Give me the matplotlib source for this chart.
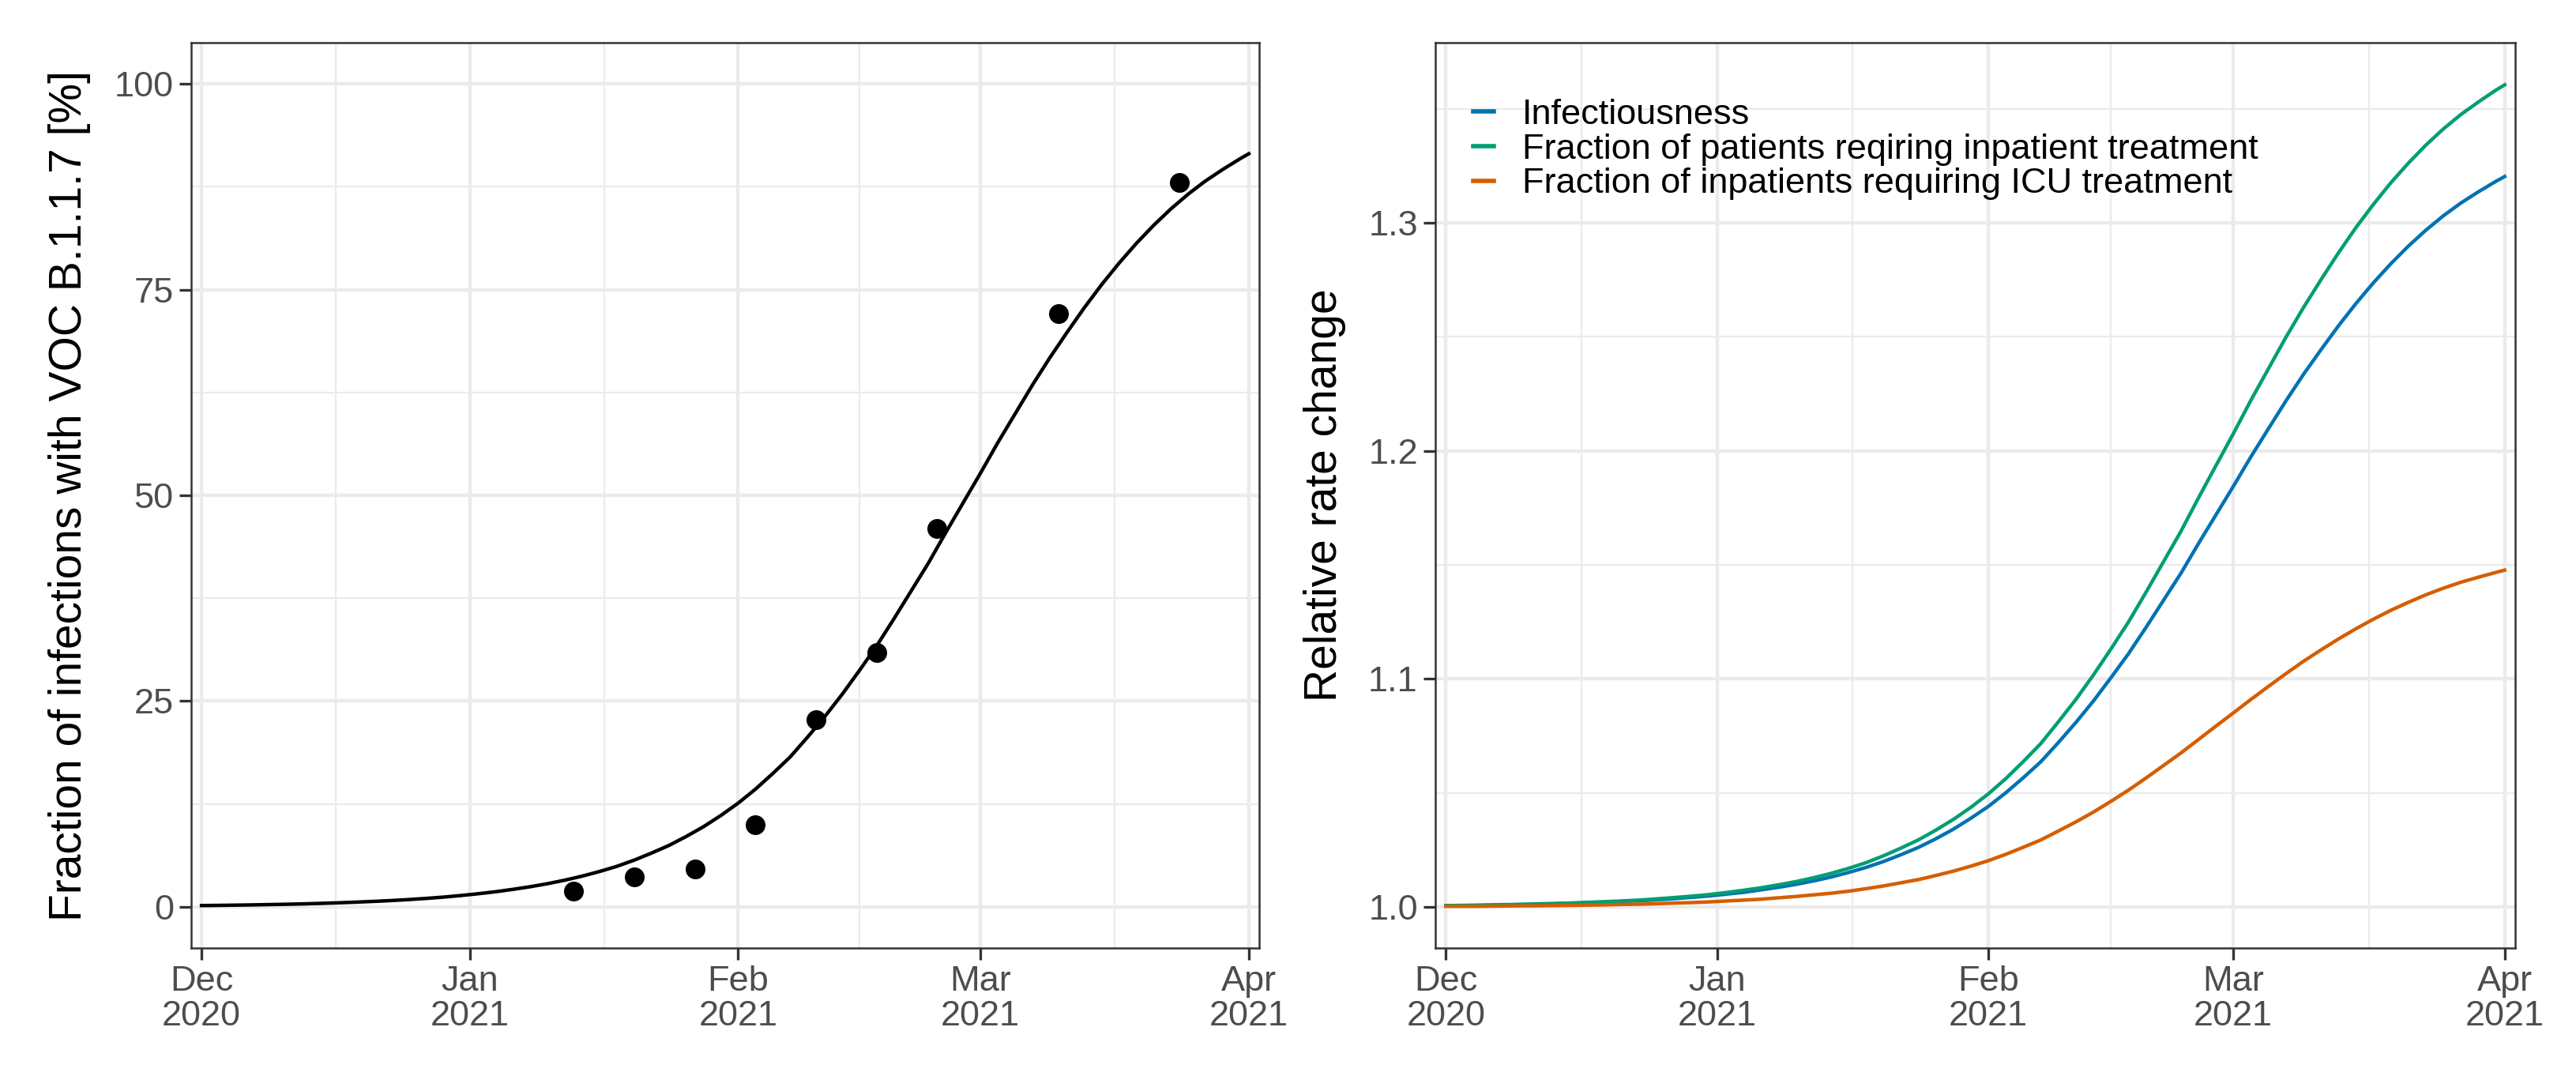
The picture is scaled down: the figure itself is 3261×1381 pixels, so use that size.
import numpy as np
import matplotlib
matplotlib.use("Agg")
import matplotlib.pyplot as plt
import matplotlib.dates as mdates

plt.rcParams['font.family'] = ['Liberation Sans', 'DejaVu Sans']

# ---------------- data ----------------
start = np.datetime64('2020-12-01')
curve_days = [0, 2, 4, 6, 8, 10, 12, 14, 16, 18, 20, 22, 24, 26, 28, 30, 32, 34,
              36, 38, 40, 42, 44, 46, 48, 50, 52, 54, 56, 58, 60, 62, 64, 66, 68,
              70, 72, 74, 76, 78, 80, 82, 84, 86, 88, 90, 92, 94, 96, 98, 100,
              102, 104, 106, 108, 110, 112, 114, 116, 118, 120, 121]
fit_pct = [0.16, 0.18, 0.21, 0.24, 0.28, 0.32, 0.37, 0.43, 0.50, 0.58,
           0.67, 0.77, 0.89, 1.03, 1.19, 1.38, 1.60, 1.84, 2.13, 2.45,
           2.82, 3.25, 3.74, 4.30, 4.93, 5.68, 6.54, 7.46, 8.55, 9.74,
           11.1, 12.6, 14.3, 16.2, 18.2, 20.6, 23.1, 25.8, 28.7, 31.7,
           35.0, 38.4, 41.8, 45.5, 49.1, 52.7, 56.4, 59.9, 63.4, 66.7,
           69.8, 72.8, 75.6, 78.2, 80.6, 82.8, 84.8, 86.6, 88.2, 89.6,
           90.9, 91.5]
obs_dates = ['2021-01-13', '2021-01-20', '2021-01-27', '2021-02-03', '2021-02-10',
             '2021-02-17', '2021-02-24', '2021-03-10', '2021-03-24']
obs_pct = [1.9, 3.6, 4.6, 10.0, 22.7, 30.9, 46.0, 72.1, 88.0]

series_names = ['Infectiousness',
                'Fraction of patients reqiring inpatient treatment',
                'Fraction of inpatients requiring ICU treatment']
infectiousness = [1.0006, 1.0006, 1.0007, 1.0008, 1.0010, 1.0011, 1.0013, 1.0015, 1.0018, 1.0020,
                  1.0024, 1.0027, 1.0031, 1.0036, 1.0042, 1.0048, 1.0056, 1.0064, 1.0075, 1.0086,
                  1.0099, 1.0114, 1.0131, 1.0151, 1.0173, 1.0199, 1.0229, 1.0261, 1.0299, 1.0341,
                  1.0389, 1.0441, 1.0501, 1.0567, 1.0637, 1.0721, 1.0809, 1.0903, 1.1005, 1.1110,
                  1.1225, 1.1344, 1.1463, 1.1593, 1.1719, 1.1845, 1.1974, 1.2097, 1.2219, 1.2335,
                  1.2443, 1.2548, 1.2646, 1.2737, 1.2821, 1.2898, 1.2968, 1.3031, 1.3087, 1.3136,
                  1.3182, 1.3203]
inpatient = [1.0006, 1.0007, 1.0008, 1.0010, 1.0011, 1.0013, 1.0015, 1.0017, 1.0020, 1.0023,
             1.0026, 1.0030, 1.0035, 1.0041, 1.0047, 1.0054, 1.0063, 1.0073, 1.0084, 1.0097,
             1.0111, 1.0128, 1.0147, 1.0169, 1.0194, 1.0224, 1.0258, 1.0294, 1.0337, 1.0384,
             1.0437, 1.0496, 1.0563, 1.0638, 1.0717, 1.0812, 1.0910, 1.1017, 1.1131, 1.1249,
             1.1379, 1.1513, 1.1647, 1.1793, 1.1935, 1.2076, 1.2222, 1.2360, 1.2498, 1.2628,
             1.2750, 1.2868, 1.2979, 1.3081, 1.3176, 1.3262, 1.3341, 1.3412, 1.3475, 1.3530,
             1.3582, 1.3605]
icu = [1.0003, 1.0003, 1.0003, 1.0004, 1.0005, 1.0005, 1.0006, 1.0007, 1.0008, 1.0009,
       1.0011, 1.0012, 1.0014, 1.0017, 1.0019, 1.0022, 1.0026, 1.0030, 1.0034, 1.0040,
       1.0046, 1.0053, 1.0060, 1.0069, 1.0080, 1.0092, 1.0106, 1.0120, 1.0138, 1.0157,
       1.0179, 1.0203, 1.0231, 1.0262, 1.0294, 1.0333, 1.0373, 1.0416, 1.0463, 1.0512,
       1.0565, 1.0620, 1.0675, 1.0734, 1.0793, 1.0851, 1.0910, 1.0967, 1.1023, 1.1077,
       1.1127, 1.1175, 1.1220, 1.1262, 1.1301, 1.1336, 1.1369, 1.1398, 1.1424, 1.1446,
       1.1467, 1.1477]
series_colors = ['#0072B2', '#009E73', '#D55E00']

major_dates = ['2020-12-01', '2021-01-01', '2021-02-01', '2021-03-01', '2021-04-01']
major_labels = ['Dec\n2020', 'Jan\n2021', 'Feb\n2021', 'Mar\n2021', 'Apr\n2021']
minor_dates = ['2020-12-16T12', '2021-01-16T12', '2021-02-15', '2021-03-16T12']

left_yticks = [0, 25, 50, 75, 100]
left_yminor = [12.5, 37.5, 62.5, 87.5]
right_yticks = [1.0, 1.1, 1.2, 1.3]
right_yminor = [1.05, 1.15, 1.25, 1.35]

# ---------------- helpers ----------------
def to_obj(arr, unit):
    return np.array(arr, dtype='datetime64[%s]' % unit).astype('datetime64[ms]').astype(object)

curve_x = (start + np.array(curve_days, dtype='timedelta64[D]')).astype('datetime64[ms]').astype(object)
obs_x = to_obj(obs_dates, 'D')
maj_x = mdates.date2num(to_obj(major_dates, 'D'))
min_x = mdates.date2num(to_obj(minor_dates, 'h'))
x0 = maj_x[0]
xlim = (x0 - 1.2, x0 + 121 + 1.2)

DPI = 100
fig = plt.figure(figsize=(3262 / DPI, 1381 / DPI), dpi=DPI)
fig.patch.set_facecolor('white')

ax1 = fig.add_axes([242 / 3262, 1 - 1200 / 1381, (1594 - 242) / 3262, (1200 - 54) / 1381])
ax2 = fig.add_axes([1817 / 3262, 1 - 1200 / 1381, (3184 - 1817) / 3262, (1200 - 54) / 1381])

tick_fs = 32.5
title_fs = 41


def style(ax, yticks, yminor, ylim):
    ax.set_xlim(*xlim)
    ax.set_ylim(*ylim)
    ax.set_xticks(maj_x)
    ax.set_xticklabels(major_labels, linespacing=1.1)
    ax.set_xticks(min_x, minor=True)
    ax.set_yticks(yticks)
    ax.set_yticks(yminor, minor=True)
    ax.grid(which='major', color='#EBEBEB', linewidth=3.2, zorder=0)
    ax.grid(which='minor', color='#EBEBEB', linewidth=1.6, zorder=0)
    ax.set_axisbelow(True)
    for s in ax.spines.values():
        s.set_color('#333333')
        s.set_linewidth(1.8)
        s.set_zorder(5)
    ax.tick_params(which='major', length=11, width=2.4, color='#333333',
                   labelsize=tick_fs, labelcolor='#4D4D4D', pad=5)
    ax.tick_params(which='minor', length=0)


style(ax1, left_yticks, left_yminor, (-5, 105))
ax1.set_yticklabels([str(v) for v in left_yticks])
ax1.plot(curve_x, fit_pct, color='black', linewidth=3.2, zorder=3,
         solid_joinstyle='round')
ax1.plot(obs_x, obs_pct, linestyle='none', marker='o', markersize=17,
         color='black', zorder=4)
ax1.set_ylabel('Fraction of infections with VOC B.1.1.7 [%]', fontsize=title_fs, color='black')
ax1.yaxis.set_label_coords(-0.094, 0.5)

style(ax2, right_yticks, right_yminor, (0.982, 1.379))
ax2.set_yticklabels(['%.1f' % v for v in right_yticks])
for vals, name, col in zip([infectiousness, inpatient, icu], series_names, series_colors):
    ax2.plot(curve_x, vals, color=col, linewidth=3.2, label=name, zorder=3,
             solid_joinstyle='round')
ax2.set_ylabel('Relative rate change', fontsize=title_fs, color='black')
ax2.yaxis.set_label_coords(-0.083, 0.5)

leg = ax2.legend(loc='upper left', bbox_to_anchor=(0.035, 0.938), frameon=False,
                 fontsize=tick_fs, handlelength=0.57, handletextpad=0.8,
                 labelspacing=0.06, borderpad=0, borderaxespad=0)
for h in leg.get_lines():
    h.set_linewidth(4)

fig.savefig('out.png', dpi=DPI, facecolor='white')
